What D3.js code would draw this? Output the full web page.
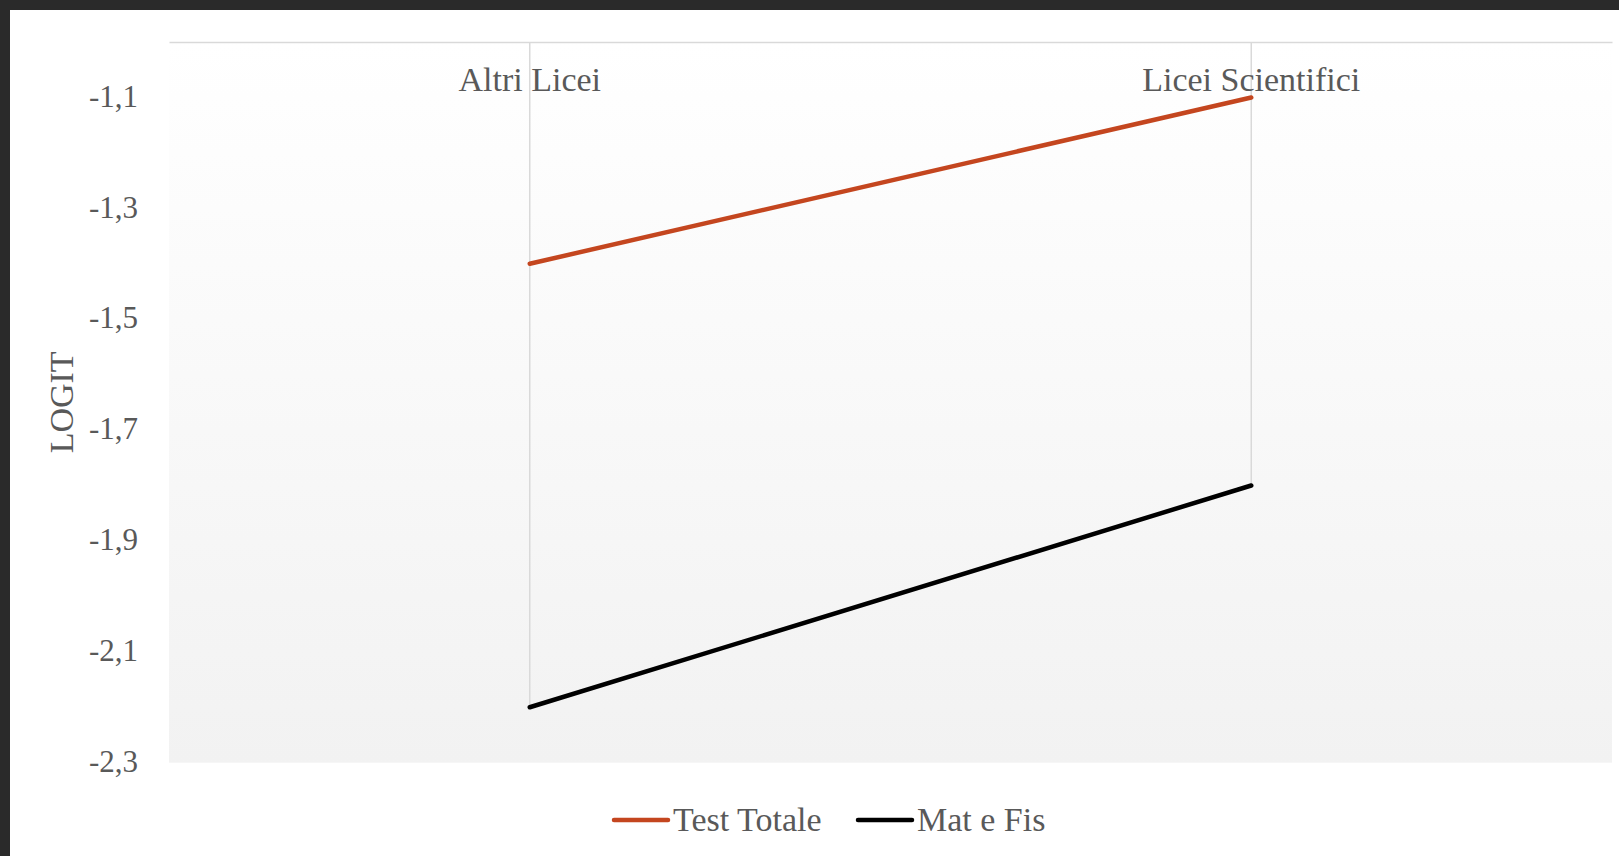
<!DOCTYPE html>
<html>
<head>
<meta charset="utf-8">
<script src="https://cdn.jsdelivr.net/npm/d3@7"></script>
<style>
  html, body { margin: 0; padding: 0; background: #2a2a2a; overflow: hidden; }
  svg { display: block; }
  text { font-family: "Liberation Serif", "Times New Roman", serif; fill: #595959; }
</style>
</head>
<body>
<svg id="chart" width="1619" height="856"></svg>
<script>
// Categories and series (LOGIT values)
const categories = ["Altri Licei", "Licei Scientifici"];
const testTotale = [-1.4, -1.1];
const matEFis = [-2.2, -1.8];
const seriesNames = ["Test Totale", "Mat e Fis"];
const seriesColors = ["#C4461F", "#000000"];
const yTicks = [-2.3, -2.1, -1.9, -1.7, -1.5, -1.3, -1.1];
const yDomain = [-2.3, -1.0];

const series = [
  { name: seriesNames[0], values: testTotale, color: seriesColors[0] },
  { name: seriesNames[1], values: matEFis, color: seriesColors[1] }
];

const W = 1619, H = 856;
const plot = { left: 169, right: 1612, top: 42, bottom: 762.7 };

const svg = d3.select("#chart");

// Card with dark frame on top/left
svg.append("rect").attr("x", 0).attr("y", 0).attr("width", W).attr("height", H).attr("fill", "#2a2a2a");
svg.append("rect").attr("x", 10).attr("y", 10).attr("width", W - 10).attr("height", H - 10).attr("fill", "#ffffff");

// Plot area gradient
const defs = svg.append("defs");
const grad = defs.append("linearGradient").attr("id", "plotGrad")
  .attr("x1", 0).attr("y1", 0).attr("x2", 0).attr("y2", 1);
grad.append("stop").attr("offset", "0%").attr("stop-color", "#ffffff");
grad.append("stop").attr("offset", "100%").attr("stop-color", "#f2f2f2");

svg.append("rect")
  .attr("x", plot.left).attr("y", plot.top)
  .attr("width", plot.right - plot.left).attr("height", plot.bottom - plot.top)
  .attr("fill", "url(#plotGrad)");

const x = d3.scaleBand().domain(categories).range([plot.left, plot.right]).padding(0);
const y = d3.scaleLinear().domain(yDomain).range([plot.bottom, plot.top]);
const cx = c => x(c) + x.bandwidth() / 2;

// Drop lines from the lowest point of each category up to the category axis
categories.forEach((c, i) => {
  const lo = d3.min(series, s => s.values[i]);
  svg.append("line")
    .attr("x1", cx(c)).attr("x2", cx(c))
    .attr("y1", y(lo)).attr("y2", y(yDomain[1]))
    .attr("stroke", "#d9d9d9").attr("stroke-width", 1.5);
});

// Category axis along the top (crosses at the max value)
const xAxis = svg.append("g")
  .attr("transform", `translate(0,${y(yDomain[1])})`)
  .call(d3.axisBottom(x).tickSize(0).tickPadding(0));
xAxis.select(".domain").attr("stroke", "#d9d9d9").attr("stroke-width", 1.5);
xAxis.selectAll("text")
  .attr("y", 49).attr("dy", 0)
  .style("font-size", "34px")
  .style("font-family", "'Liberation Serif', serif")
  .attr("fill", "#595959");

// Value axis labels
const fmt = d => d.toFixed(1).replace(".", ",");
const yAxis = svg.append("g")
  .attr("transform", `translate(${plot.left},0)`)
  .call(d3.axisLeft(y).tickValues(yTicks).tickFormat(fmt).tickSize(0).tickPadding(31));
yAxis.select(".domain").remove();
yAxis.selectAll("text")
  .attr("dy", "0.28em")
  .style("font-size", "31px")
  .style("font-family", "'Liberation Serif', serif")
  .attr("fill", "#595959");

// Axis title
svg.append("text")
  .attr("transform", `translate(73,${(plot.top + plot.bottom) / 2}) rotate(-90)`)
  .attr("text-anchor", "middle")
  .style("font-size", "34px")
  .text("LOGIT");

// Series lines
const line = d3.line()
  .x((d, i) => cx(categories[i]))
  .y(d => y(d));

series.forEach(s => {
  svg.append("path")
    .datum(s.values)
    .attr("d", line)
    .attr("fill", "none")
    .attr("stroke", s.color)
    .attr("stroke-width", 4.5)
    .attr("stroke-linecap", "round");
});

// Legend
const legend = svg.append("g").attr("transform", "translate(0,820)");
const legendX = [614, 858];
series.forEach((s, i) => {
  const g = legend.append("g").attr("transform", `translate(${legendX[i]},0)`);
  g.append("line").attr("x1", 0).attr("x2", 54).attr("y1", 0).attr("y2", 0)
    .attr("stroke", s.color).attr("stroke-width", 4.5).attr("stroke-linecap", "round");
  g.append("text").attr("x", 59).attr("y", 11).style("font-size", "34px").text(s.name);
});
</script>
</body>
</html>
